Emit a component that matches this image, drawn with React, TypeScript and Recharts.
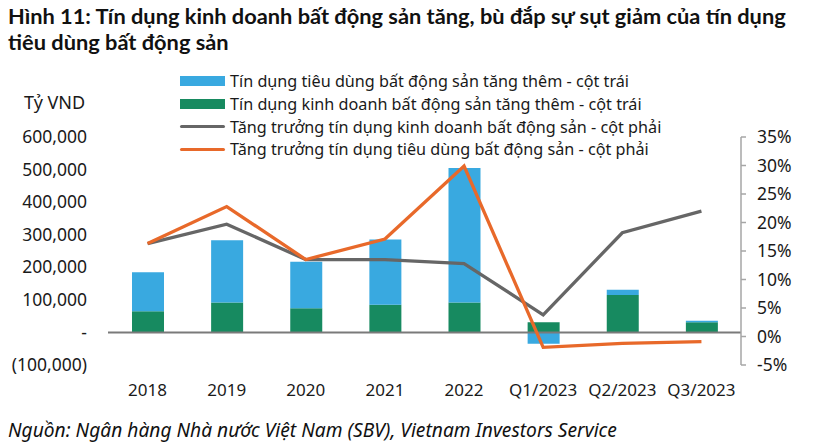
import React from 'react';
import { ComposedChart, Bar, Line, XAxis, YAxis, ReferenceLine } from 'recharts';

const categories = ['2018', '2019', '2020', '2021', '2022', 'Q1/2023', 'Q2/2023', 'Q3/2023'];
const consumerAdded = [120000, 191000, 143000, 200000, 413000, -35000, 16000, 5000];
const businessAdded = [65000, 92000, 74000, 85000, 92000, 31000, 115000, 31000];
const businessGrowth = [16.3, 19.7, 13.5, 13.5, 12.8, 3.8, 18.2, 22.0];
const consumerGrowth = [16.3, 22.8, 13.5, 17.1, 29.9, -1.9, -1.2, -0.9];
const leftTicks = [-100000, 0, 100000, 200000, 300000, 400000, 500000, 600000];
const rightTicks = [-5, 0, 5, 10, 15, 20, 25, 30, 35];

const series = [
  { key: 'consumerAdded', name: 'Tín dụng tiêu dùng bất động sản tăng thêm - cột trái', color: '#39a9e0', type: 'bar' },
  { key: 'businessAdded', name: 'Tín dụng kinh doanh bất động sản tăng thêm - cột trái', color: '#178a60', type: 'bar' },
  { key: 'businessGrowth', name: 'Tăng trưởng tín dụng kinh doanh bất động sản - cột phải', color: '#666666', type: 'line' },
  { key: 'consumerGrowth', name: 'Tăng trưởng tín dụng tiêu dùng bất động sản - cột phải', color: '#e8692a', type: 'line' },
];

const data = categories.map((c, i) => ({
  category: c,
  consumerAdded: consumerAdded[i],
  businessAdded: businessAdded[i],
  businessGrowth: businessGrowth[i],
  consumerGrowth: consumerGrowth[i],
}));

const FONT = '"Noto Sans", "Open Sans", sans-serif';
const TEXT = '#1a1a1a';

const fmtLeft = (v: number) => {
  if (v === 0) return '-';
  const s = Math.abs(v).toLocaleString('en-US');
  return v < 0 ? `(${s})` : s;
};

const LegendBox = () => (
  <div style={{ position: 'absolute', left: 180, top: 70, fontFamily: FONT, fontSize: 16.2, color: TEXT }}>
    {series.map((s) => (
      <div key={s.key} style={{ display: 'flex', alignItems: 'center', height: 22.7 }}>
        {s.type === 'bar' ? (
          <div style={{ width: 45, height: 10, background: s.color, marginRight: 5 }} />
        ) : (
          <div style={{ width: 45, height: 3.5, background: s.color, borderRadius: 2, marginRight: 5 }} />
        )}
        <span style={{ whiteSpace: 'nowrap', lineHeight: '22px' }}>{s.name}</span>
      </div>
    ))}
  </div>
);

export default function App() {
  return (
    <div style={{ position: 'absolute', left: 0, top: 0, width: 816, height: 446, background: '#fff', overflow: 'hidden' }}>
      <div style={{ position: 'absolute', left: 8, top: 3, fontFamily: 'Lato, "Noto Sans", sans-serif', fontWeight: 700, fontSize: 21.8, lineHeight: '26px', color: '#111', whiteSpace: 'nowrap' }}>
        Hình 11: Tín dụng kinh doanh bất động sản tăng, bù đắp sự sụt giảm của tín dụng
        <br />
        tiêu dùng bất động sản
      </div>
      <div style={{ position: 'absolute', left: 24, top: 90, fontFamily: FONT, fontSize: 18, color: TEXT }}>Tỷ VND</div>
      <LegendBox />
      <div style={{ position: 'absolute', left: 0, top: 0 }}>
        <ComposedChart
          width={816}
          height={446}
          data={data}
          stackOffset="sign"
          margin={{ top: 137, right: 0, bottom: 51, left: 8 }}
        >
          <XAxis
            dataKey="category"
            axisLine={false}
            tickLine={false}
            tickSize={0}
            tickMargin={19}
            height={30}
            interval={0}
            tick={{ fontSize: 17, fill: TEXT, fontFamily: FONT }}
          />
          <YAxis
            yAxisId="left"
            orientation="left"
            width={100}
            domain={[-100000, 600000]}
            ticks={leftTicks}
            tickFormatter={fmtLeft}
            axisLine={false}
            tickLine={false}
            tickSize={0}
            tickMargin={21}
            interval={0}
            tick={{ fontSize: 17.5, fill: TEXT, fontFamily: FONT }}
          />
          <YAxis
            yAxisId="right"
            orientation="right"
            width={75}
            domain={[-5, 35]}
            ticks={rightTicks}
            tickFormatter={(v: number) => `${v}%`}
            axisLine={{ stroke: '#a6a6a6', strokeWidth: 1.5 }}
            tickLine={{ stroke: '#a6a6a6', strokeWidth: 1.5 }}
            tickSize={5}
            tickMargin={11}
            interval={0}
            tick={{ fontSize: 17.5, fill: TEXT, fontFamily: FONT, textAnchor: 'start' }}
          />
          <Bar yAxisId="left" dataKey="businessAdded" name={series[1].name} stackId="a" fill={series[1].color} barSize={32} isAnimationActive={false} />
          <Bar yAxisId="left" dataKey="consumerAdded" name={series[0].name} stackId="a" fill={series[0].color} barSize={32} isAnimationActive={false} />
          <ReferenceLine yAxisId="left" y={0} stroke="#7a7a7a" strokeWidth={2} />
          <Line yAxisId="right" type="linear" dataKey="businessGrowth" name={series[2].name} stroke={series[2].color} strokeWidth={3.3} dot={false} activeDot={false} isAnimationActive={false} />
          <Line yAxisId="right" type="linear" dataKey="consumerGrowth" name={series[3].name} stroke={series[3].color} strokeWidth={3.3} dot={false} activeDot={false} isAnimationActive={false} />
        </ComposedChart>
      </div>
      <div style={{ position: 'absolute', left: 8, top: 416, fontFamily: FONT, fontStyle: 'italic', fontSize: 19.2, color: '#111', whiteSpace: 'nowrap' }}>
        Nguồn: Ngân hàng Nhà nước Việt Nam (SBV), Vietnam Investors Service
      </div>
    </div>
  );
}
